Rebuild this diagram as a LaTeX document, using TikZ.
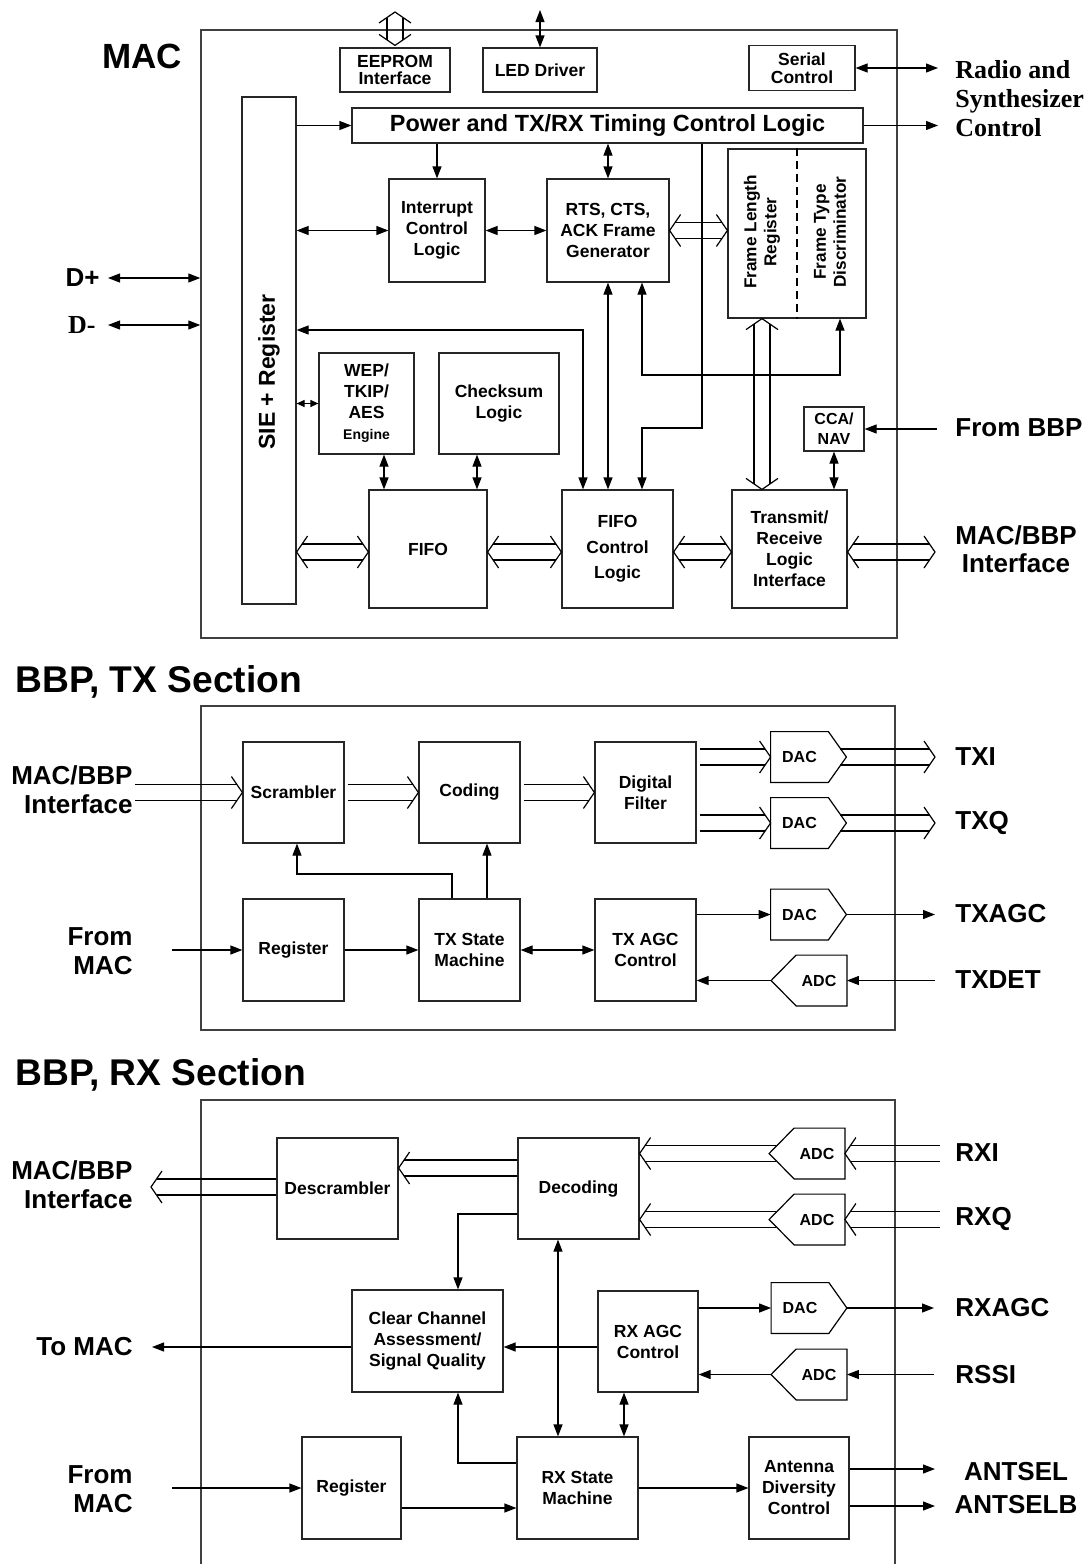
\documentclass[tikz,border=0pt]{standalone}
\usepackage{fontspec}
\setmainfont{Liberation Sans}
\newfontfamily\tmsfont{Liberation Serif}
\usetikzlibrary{calc,arrows.meta}
\newcommand\bxfont{\bfseries\fontsize{8.75}{10.5}\selectfont}
\newcommand\tightfont{\bfseries\fontsize{8.75}{8.75}\selectfont}
\newcommand\smallbx{\bfseries\fontsize{8}{10}\selectfont}
\newcommand\framefont{\bfseries\fontsize{8.6}{10}\selectfont}
\newcommand\pwrfont{\bfseries\fontsize{11.7}{14}\selectfont}
\newcommand\sidefont{\bfseries\fontsize{13}{14.5}\selectfont}
\newcommand\titlefont{\bfseries\fontsize{17.5}{20}\selectfont}
\newcommand\bigtitlefont{\bfseries\fontsize{18.6}{20}\selectfont}
\newcommand\siefont{\bfseries\fontsize{11.5}{13}\selectfont}
\newcommand\timesfont{\tmsfont\bfseries\fontsize{13}{14.5}\selectfont}
\tikzset{
  tipA/.tip={Triangle[length=6pt,width=4.5pt]},
  tipS/.tip={Triangle[length=4pt,width=3.5pt]},
  blk/.style={draw=black!85, line width=0.6pt, fill=white, inner sep=0pt, align=center, font=\bxfont},
  sz/.style 2 args={minimum width=#1*0.5pt, minimum height=#2*0.5pt},
  secbox/.style={draw=black!75, line width=0.7pt, inner sep=0pt},
  conv/.style={inner sep=0pt, minimum width=37.5pt, minimum height=25pt},
  convtxt/.style={inner sep=0pt, font=\smallbx},
  ln/.style={line width=0.6pt},
  ar/.style={ln, -tipA},
  dar/.style={ln, tipA-tipA},
  sdar/.style={ln, tipS-tipS},
  busln/.style={line width=0.6pt},
  lbl/.style={inner sep=0pt, font=\sidefont},
  title/.style={inner sep=0pt, font=\titlefont},
}
\newcommand\dacnode[4]{%
  \node[conv] (#1) at (#2,#3) {};
  \draw[ln] (#1.north west) -- ([xshift=-9pt]#1.north east) -- (#1.east) -- ([xshift=-9pt]#1.south east) -- (#1.south west) -- cycle;
  \node[convtxt] (#1-t) at ([xshift=-4.5pt]#1.center) {#4};}
\newcommand\adcnode[4]{%
  \node[conv] (#1) at (#2,#3) {};
  \draw[ln] (#1.west) -- ([xshift=12.5pt]#1.north west) -- (#1.north east) -- (#1.south east) -- ([xshift=12.5pt]#1.south west) -- cycle;
  \node[convtxt] (#1-t) at ([xshift=5pt]#1.center) {#4};}
\newcommand\busone[2]{%
  \path (#1) coordinate (bA) (#2) coordinate (bB);
  \path ($(bB)!2.75pt!(bA)$) coordinate (bQ) ($(bB)!5.5pt!(bA)$) coordinate (bP);
  \draw[busln] ($(bA)!4pt!90:(bB)$) -- ($(bQ)!4pt!90:(bB)$);
  \draw[busln] ($(bA)!4pt!-90:(bB)$) -- ($(bQ)!4pt!-90:(bB)$);
  \draw[busln] ($(bP)!8pt!90:(bB)$) -- (bB) -- ($(bP)!8pt!-90:(bB)$);}
\newcommand\bustwo[2]{%
  \path (#1) coordinate (bA) (#2) coordinate (bB);
  \path ($(bB)!2.75pt!(bA)$) coordinate (bQ) ($(bB)!5.5pt!(bA)$) coordinate (bP)
        ($(bA)!2.75pt!(bB)$) coordinate (bQa) ($(bA)!5.5pt!(bB)$) coordinate (bPa);
  \draw[busln] ($(bQa)!4pt!-90:(bA)$) -- ($(bQ)!4pt!90:(bB)$);
  \draw[busln] ($(bQa)!4pt!90:(bA)$) -- ($(bQ)!4pt!-90:(bB)$);
  \draw[busln] ($(bP)!8pt!90:(bB)$) -- (bB) -- ($(bP)!8pt!-90:(bB)$);
  \draw[busln] ($(bPa)!8pt!90:(bA)$) -- (bA) -- ($(bPa)!8pt!-90:(bA)$);}
\begin{document}
\begin{tikzpicture}[x=0.5pt,y=-0.5pt]
\useasboundingbox (0,0) rectangle (1087,1564);
% ================= MAC =================
\node[secbox, sz={696}{608}] (mac) at (549,334) {};
\node[title] (mactitle) at (142,56) {MAC};
\node[blk, sz={110}{44}, font=\tightfont] (eeprom) at (395,70) {EEPROM\\Interface};
\node[blk, sz={114}{44}] (led) at (540,70) {LED Driver};
\node[blk, sz={106}{45}, font=\tightfont] (serial) at (802,68) {Serial\\Control};
\node[blk, sz={511}{35}, font=\pwrfont] (power) at (607.5,125.5) {Power and TX/RX Timing Control Logic};
\node[blk, sz={54}{507}] (sie) at (269,350.5) {};
\node[font=\siefont, rotate=90, inner sep=0pt] (sietxt) at (269,372) {SIE + Register};
\node[blk, sz={96}{103}] (intr) at (437,230.5) {Interrupt\\Control\\Logic};
\node[blk, sz={122}{103}] (rts) at (608,230.5) {RTS, CTS,\\ACK Frame\\Generator};
\node[blk, sz={138}{169}] (frame) at (797,233.5) {};
\draw[ln, dash pattern=on 4pt off 2.5pt] (frame.north) -- (frame.south);
\node[font=\framefont, rotate=90, align=center, inner sep=0pt] (fltxt) at (762,232) {Frame Length\\Register};
\node[font=\framefont, rotate=90, align=center, inner sep=0pt] (fttxt) at (830,232) {Frame Type\\Discriminator};
\node[blk, sz={95}{101}] (wep) at (366.5,403.5) {WEP/\\TKIP/\\AES\\{\fontsize{7}{9}\selectfont Engine}};
\node[blk, sz={120}{101}] (chk) at (499,403.5) {Checksum\\Logic};
\node[blk, sz={60}{44}, font=\smallbx] (cca) at (834,429) {CCA/\\NAV};
\node[blk, sz={118}{118}] (fifo) at (428,549) {FIFO};
\node[blk, sz={111}{118}, font=\bfseries\fontsize{8.75}{12.75}\selectfont] (fifoc) at (617.5,549) {FIFO\\Control\\Logic};
\node[blk, sz={115}{118}] (trx) at (789.5,549) {Transmit/\\Receive\\Logic\\Interface};
% labels
\node[lbl, anchor=east] (dp) at (100,278) {D+};
\node[lbl, anchor=east, font=\timesfont] (dm) at (96,325) {D-};
\node[lbl, anchor=west, align=left, font=\timesfont] (radio) at (955,99) {Radio and\\Synthesizer\\Control};
\node[lbl, anchor=west] (frombbp) at (955,428) {From BBP};
\node[lbl, align=center, font=\bfseries\fontsize{13}{14}\selectfont] (macbbp1) at (1016,549) {MAC/BBP\\Interface};
% coordinates
\coordinate (eepromtop) at (395,12);
\coordinate (ledtop) at (540,10);
\coordinate (radioA) at (938,68);
\coordinate (radioB) at (938,125.5);
\coordinate (bbpin) at (937,429);
\coordinate (busy) at (0,552);
\coordinate (macbbpR) at (935,552);
\coordinate (p1) at (702,428);
\coordinate (p2) at (642,428);
\coordinate (q1) at (583,330);
\coordinate (r1) at (642,375);
\coordinate (r2) at (840,375);
\coordinate (s1) at (762,0);
\coordinate (t1) at (384,0);
\coordinate (t2) at (477,0);
% connectors
\bustwo{[yshift=1pt]eeprom.north}{eepromtop}
\draw[dar] (led.north) -- (ledtop);
\draw[dar] (serial.east) -- (radioA);
\draw[ar] (power.east) -- (radioB);
\draw[ar] (sie.east |- power.west) -- (power.west);
\draw[ar] (intr.north |- power.south) -- (intr.north);
\draw[dar] (rts.north |- power.south) -- (rts.north);
\draw[dar] (sie.east |- intr.west) -- (intr.west);
\draw[dar] (intr.east) -- (rts.west);
\bustwo{rts.east}{rts.east -| frame.west}
\draw[ar] (power.south -| p1) -- (p1) -- (p2) -- (fifoc.north -| p2);
\draw[dar] (rts.south) -- (rts.south |- fifoc.north);
\draw[dar] (sie.east |- q1) -- (q1) -- (fifoc.north -| q1);
\draw[dar] (rts.south -| r1) -- (r1) -- (r2) -- (frame.south -| r2);
\bustwo{frame.south -| s1}{trx.north -| s1}
\draw[ar] (bbpin) -- (cca.east);
\draw[dar] (cca.south) -- (cca.south |- trx.north);
\bustwo{trx.east |- busy}{macbbpR}
\bustwo{sie.east |- busy}{fifo.west |- busy}
\bustwo{fifo.east |- busy}{fifoc.west |- busy}
\bustwo{fifoc.east |- busy}{trx.west |- busy}
\draw[sdar] (sie.east |- wep.west) -- (wep.west);
\draw[dar] (wep.south -| t1) -- (fifo.north -| t1);
\draw[dar] (chk.south -| t2) -- (fifo.north -| t2);
\draw[dar] ([xshift=4pt]dp.east) -- (dp.east -| mac.west);
\draw[dar] ([xshift=6pt]dm.east) -- (dm.east -| mac.west);
% ================= TX =================
\node[title, anchor=west, font=\bigtitlefont] (txtitle) at (15,682) {BBP, TX Section};
\node[secbox, sz={694}{324}] (tx) at (548,868) {};
\node[blk, sz={101}{101}] (scr) at (293.5,792.5) {Scrambler};
\node[blk, sz={101}{101}] (cod) at (469.5,792.5) {Coding};
\node[blk, sz={101}{101}] (dfl) at (645.5,792.5) {Digital\\Filter};
\node[blk, sz={101}{102}] (treg) at (293.5,950) {Register};
\node[blk, sz={101}{102}] (tsm) at (469.5,950) {TX State\\Machine};
\node[blk, sz={101}{102}] (tagc) at (645.5,950) {TX AGC\\Control};
\dacnode{dac1}{808.5}{757}{DAC}
\dacnode{dac2}{808.5}{823}{DAC}
\dacnode{dac3}{808.5}{914.5}{DAC}
\adcnode{adc1}{809}{980.5}{ADC}
\node[lbl, anchor=east, align=right] (txin) at (133,790) {MAC/BBP\\Interface};
\node[lbl, anchor=east, align=right] (txfm) at (133,951) {From\\MAC};
\node[lbl, anchor=west] (txi) at (955,757) {TXI};
\node[lbl, anchor=west] (txq) at (955,823) {TXQ};
\node[lbl, anchor=west] (txagc) at (955,914) {TXAGC};
\node[lbl, anchor=west] (txdet) at (955,980) {TXDET};
\coordinate (txinS) at (135,792.5);
\coordinate (f1) at (700,757);
\coordinate (f2) at (700,823);
\coordinate (txiE) at (935,757);
\coordinate (txqE) at (935,823);
\coordinate (txagcE) at (935,914.5);
\coordinate (txdetS) at (935,980.5);
\coordinate (txfmS) at (172,950);
\coordinate (u1) at (487,0);
\coordinate (u2) at (452,874);
\coordinate (u3) at (297,874);
\busone{txinS}{scr.west}
\busone{[xshift=1.5pt]scr.east}{cod.west}
\busone{[xshift=1.5pt]cod.east}{dfl.west}
\busone{f1}{dac1.west}
\busone{f2}{dac2.west}
\busone{[xshift=-3pt]dac1.east}{txiE}
\busone{[xshift=-3pt]dac2.east}{txqE}
\draw[ar] (dac3.west -| tagc.east) -- (dac3.west);
\draw[ar] (dac3.east) -- (txagcE);
\draw[ar] (txdetS) -- (adc1.east);
\draw[ar] (adc1.west) -- (adc1.west -| tagc.east);
\draw[dar] (tsm.east) -- (tagc.west);
\draw[ar] (treg.east) -- (tsm.west);
\draw[ar] (txfmS) -- (treg.west);
\draw[ar] (tsm.north -| u1) -- (cod.south -| u1);
\draw[ar] (tsm.north -| u2) -- (u2) -- (u3) -- (scr.south -| u3);
% ================= RX =================
\node[title, anchor=west, font=\bigtitlefont] (rxtitle) at (15,1075) {BBP, RX Section};
\draw[draw=black!75, line width=0.7pt] (201,1570) -- (201,1100) -- (895,1100) -- (895,1570);
\node[blk, sz={121}{101}] (desc) at (337.5,1188.5) {Descrambler};
\node[blk, sz={121}{101}] (dec) at (578.5,1188.5) {Decoding};
\node[blk, sz={151}{102}] (ccab) at (427.5,1341) {Clear Channel\\Assessment/\\Signal Quality};
\node[blk, sz={100}{101}] (rxagc) at (648,1341.5) {RX AGC\\Control};
\node[blk, sz={99}{102}] (rreg) at (351.5,1488) {Register};
\node[blk, sz={121}{102}] (rsm) at (577.5,1488) {RX State\\Machine};
\node[blk, sz={100}{102}] (ant) at (799,1488) {Antenna\\Diversity\\Control};
\adcnode{adc2}{807}{1153.5}{ADC}
\adcnode{adc3}{807}{1219.5}{ADC}
\dacnode{dac4}{809}{1308}{DAC}
\adcnode{adc4}{809}{1374.5}{ADC}
\node[lbl, anchor=east, align=right] (rxout) at (133,1185) {MAC/BBP\\Interface};
\node[lbl, anchor=east] (tomac) at (133,1347) {To MAC};
\node[lbl, anchor=east, align=right] (rxfm) at (133,1489) {From\\MAC};
\node[lbl, anchor=west] (rxi) at (955,1153) {RXI};
\node[lbl, anchor=west] (rxq) at (955,1219) {RXQ};
\node[lbl, anchor=west] (rxagcl) at (955,1308) {RXAGC};
\node[lbl, anchor=west] (rssi) at (955,1375) {RSSI};
\node[lbl] (antsel) at (1016,1472) {ANTSEL};
\node[lbl] (antselb) at (1016,1505) {ANTSELB};
\coordinate (v1) at (0,1187);
\coordinate (rxoutT) at (151,1187);
\coordinate (v2) at (0,1168);
\coordinate (rxiS) at (940,1153.5);
\coordinate (rxqS) at (940,1219.5);
\coordinate (w1) at (458,1214);
\coordinate (tomacT) at (152,1347);
\coordinate (rxagcT) at (934,1308);
\coordinate (rssiS) at (934,1374.5);
\coordinate (w3) at (558,0);
\coordinate (w4) at (624,0);
\coordinate (w5) at (458,1463);
\coordinate (rxfmS) at (172,1488);
\coordinate (w6) at (0,1508);
\coordinate (antselT) at (935,1469);
\coordinate (antselbT) at (935,1506);
\busone{desc.west |- v1}{rxoutT}
\busone{dec.west |- v2}{desc.east |- v2}
\busone{[xshift=3.5pt]adc2.west}{dec.east |- adc2.west}
\busone{rxiS}{adc2.east}
\busone{[xshift=3.5pt]adc3.west}{dec.east |- adc3.west}
\busone{rxqS}{adc3.east}
\draw[ar] (dec.west |- w1) -- (w1) -- (ccab.north -| w1);
\draw[ar] (ccab.west |- tomacT) -- (tomacT);
\draw[ar] (rxagc.west |- tomacT) -- (ccab.east |- tomacT);
\draw[ar] (rxagc.east |- dac4.west) -- (dac4.west);
\draw[ar] (dac4.east) -- (rxagcT);
\draw[ar] (rssiS) -- (adc4.east);
\draw[ar] (adc4.west) -- (adc4.west -| rxagc.east);
\draw[dar] (rsm.north -| w3) -- (dec.south -| w3);
\draw[dar] (rsm.north -| w4) -- (rxagc.south -| w4);
\draw[ar] (rsm.west |- w5) -- (w5) -- (ccab.south -| w5);
\draw[ar] (rxfmS) -- (rreg.west);
\draw[ar] (rreg.east |- w6) -- (rsm.west |- w6);
\draw[ar] (rsm.east) -- (ant.west);
\draw[ar] (ant.east |- antselT) -- (antselT);
\draw[ar] (ant.east |- antselbT) -- (antselbT);
\end{tikzpicture}
\end{document}
